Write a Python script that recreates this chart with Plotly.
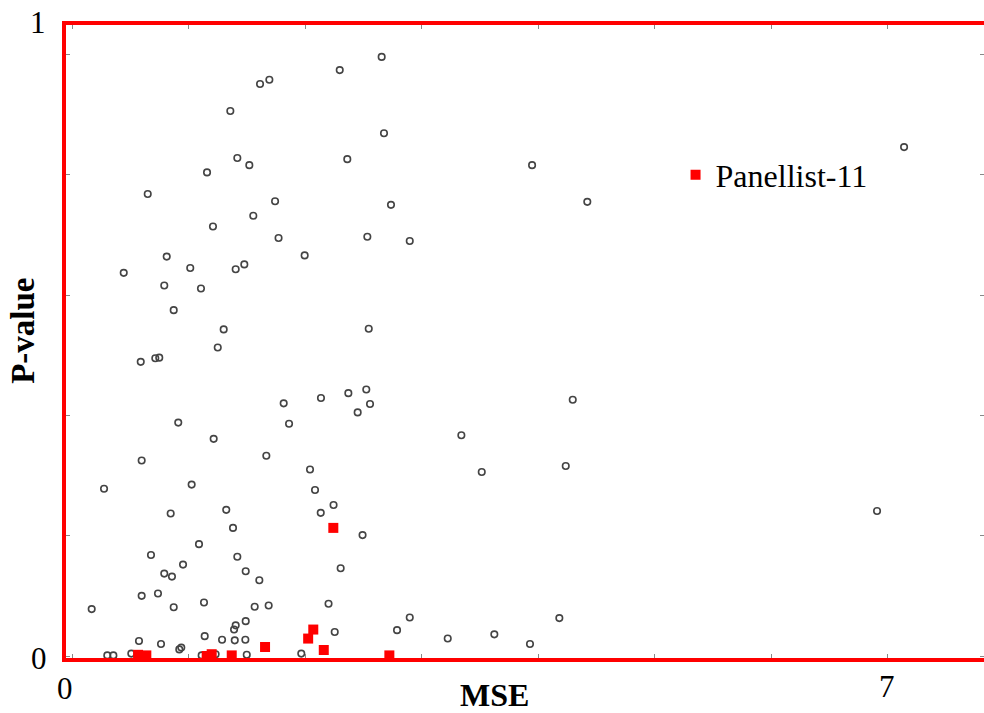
import plotly.graph_objects as go

# ---- data (MSE, P-value) ----
others_mse = [2.658, 2.298, 1.694, 1.614, 1.359, 2.678, 1.419, 2.363, 1.522, 1.159,
              3.949, 7.142, 0.650, 1.743, 2.738, 4.423, 1.556, 1.210, 2.535, 1.773,
              2.899, 1.997, 0.813, 0.444, 1.015, 1.405, 1.479, 0.792, 1.107, 0.873,
              2.547, 1.302, 1.251, 0.590, 0.715, 0.749, 2.526, 2.372, 2.137, 1.817,
              2.558, 2.452, 1.863, 4.298, 3.342, 0.912, 1.216, 0.598, 1.668, 2.043,
              3.517, 4.238, 0.275, 1.027, 2.086, 2.245, 2.135, 0.847, 1.324, 1.382,
              2.494, 6.910, 1.090, 0.678, 1.419, 0.953, 0.792, 0.858, 2.306, 1.491,
              1.608, 0.738, 0.598, 0.169, 1.133, 0.873, 1.688, 1.568, 2.202, 1.491,
              1.405, 1.391, 2.899, 4.183, 2.790, 2.255, 3.225, 3.625, 3.931, 0.575,
              0.764, 1.139, 1.288, 1.397, 1.488, 0.921, 0.938, 0.303, 0.355, 0.509,
              1.113, 1.233, 1.500, 1.968]
others_p = [0.996, 0.974, 0.958, 0.951, 0.906, 0.869, 0.828, 0.826, 0.816, 0.804,
            0.816, 0.846, 0.768, 0.756, 0.750, 0.755, 0.732, 0.714, 0.697, 0.695,
            0.690, 0.666, 0.664, 0.637, 0.645, 0.643, 0.651, 0.616, 0.611, 0.575,
            0.544, 0.543, 0.513, 0.489, 0.495, 0.496, 0.443, 0.437, 0.429, 0.420,
            0.419, 0.405, 0.386, 0.426, 0.367, 0.388, 0.361, 0.325, 0.333, 0.310,
            0.306, 0.316, 0.278, 0.285, 0.276, 0.251, 0.238, 0.237, 0.243, 0.213,
            0.201, 0.241, 0.186, 0.168, 0.165, 0.152, 0.137, 0.132, 0.146, 0.141,
            0.126, 0.104, 0.100, 0.078, 0.089, 0.081, 0.084, 0.082, 0.087, 0.058,
            0.051, 0.044, 0.064, 0.063, 0.043, 0.040, 0.029, 0.036, 0.020, 0.025,
            0.020, 0.033, 0.027, 0.026, 0.027, 0.011, 0.014, 0.001, 0.001, 0.004,
            0.001, 0.003, 0.002, 0.004]

p11_mse = [0.567, 0.638, 1.156, 1.199, 1.371, 1.657, 2.027, 2.071, 2.161, 2.243, 2.724]
p11_p = [0.002, 0.001, 0.000, 0.003, 0.001, 0.015, 0.029, 0.044, 0.010, 0.213, 0.001]

series_name = "Panellist-11"
x_title = "MSE"
y_title = "P-value"
y_ticks = [0, 0.2, 0.4, 0.6, 0.8, 1.0]
x_ticks = [0, 1, 2, 3, 4, 5, 6, 7]

SERIF = "Liberation Serif, Times New Roman, serif"
RED = "#ff0000"

fig = go.Figure()
fig.add_trace(go.Scatter(
    x=others_mse, y=others_p, mode="markers", showlegend=False,
    marker=dict(symbol="circle-open", size=6.5, color="#444444", line=dict(width=1.6, color="#444444")),
))
fig.add_trace(go.Scatter(
    x=p11_mse, y=p11_p, mode="markers", name=series_name,
    marker=dict(symbol="square", size=10, color=RED, line=dict(width=0)),
))
# invisible trace to carry right-hand ticks
fig.add_trace(go.Scatter(x=[None], y=[None], yaxis="y2", showlegend=False, hoverinfo="skip"))

fig.update_layout(
    width=984, height=713,
    margin=dict(l=66, r=0, t=25, b=55),
    plot_bgcolor="white", paper_bgcolor="white",
    font=dict(family=SERIF, color="black"),
    xaxis=dict(range=[-0.0515, 7.828], tickvals=x_ticks, showticklabels=False,
               ticks="inside", ticklen=4, tickwidth=1, tickcolor="#888888",
               showline=True, linecolor=RED, linewidth=4, mirror="ticks",
               showgrid=False, zeroline=False),
    yaxis=dict(range=[-0.0033, 1.049], tickvals=y_ticks, showticklabels=False,
               ticks="inside", ticklen=4, tickwidth=1, tickcolor="#888888",
               showline=True, linecolor=RED, linewidth=4, mirror=False,
               showgrid=False, zeroline=False),
    yaxis2=dict(range=[-0.0033, 1.049], overlaying="y", side="right",
                tickvals=y_ticks, showticklabels=False,
                ticks="inside", ticklen=4, tickwidth=1, tickcolor="#888888",
                showline=True, linecolor="#eeeeee", linewidth=1,
                showgrid=False, zeroline=False),
    legend=dict(x=0.664, y=0.763, xanchor="left", yanchor="middle",
                bgcolor="rgba(0,0,0,0)", font=dict(family=SERIF, size=32, color="black")),
)

annots = [
    dict(text="1", x=-0.0305, y=1.0047),
    dict(text="0", x=-0.0294, y=0.0),
    dict(text="0", x=-0.0011, y=-0.0474),
    dict(text="7", x=0.8943, y=-0.0458),
]
for a in annots:
    fig.add_annotation(text=a["text"], x=a["x"], y=a["y"], xref="paper", yref="paper",
                       showarrow=False, xanchor="center", yanchor="middle",
                       font=dict(family=SERIF, size=31, color="black"))
fig.add_annotation(text="<b>" + x_title + "</b>", x=0.4673, y=-0.0585, xref="paper", yref="paper",
                   showarrow=False, xanchor="center", yanchor="middle",
                   font=dict(family=SERIF, size=32, color="black"))
fig.add_annotation(text="<b>" + y_title + "</b>", x=-0.0470, y=0.5166, xref="paper", yref="paper",
                   showarrow=False, xanchor="center", yanchor="middle", textangle=-90,
                   font=dict(family=SERIF, size=33, color="black"))

fig.write_html("out.html")
